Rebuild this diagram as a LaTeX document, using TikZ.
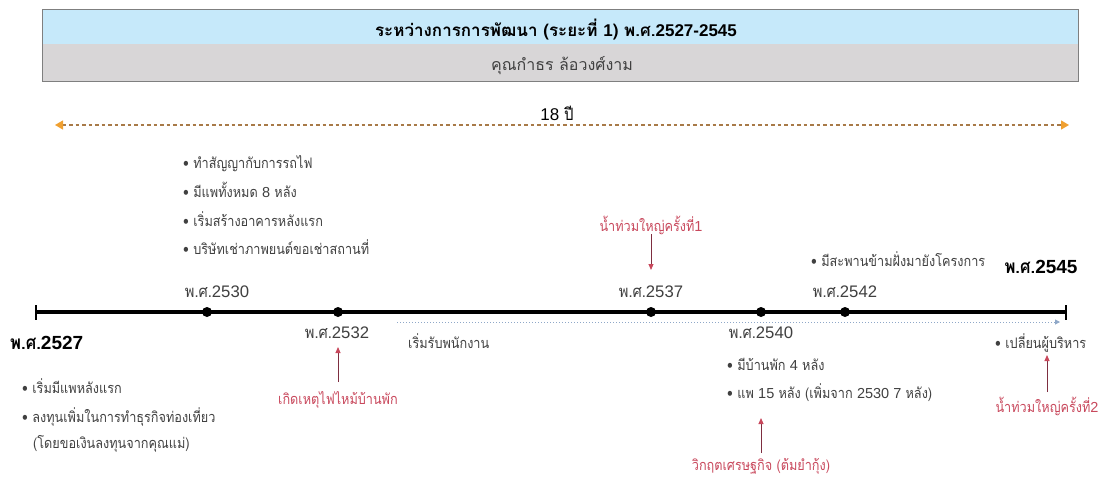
\documentclass[tikz,border=0pt]{standalone}
\usepackage{fontspec}
\setmainfont[Script=Thai, FakeStretch=0.875]{Loma}
\newfontfamily\titlef[Script=Thai]{Loma}
\newfontfamily\lat{Liberation Sans}
\newcommand\ltn[1]{{\lat #1}}
\usetikzlibrary{arrows.meta,calc}
\definecolor{txtgray}{HTML}{404040}
\definecolor{hdrblue}{HTML}{C6E9FA}
\definecolor{hdrgray}{HTML}{D8D6D7}
\definecolor{hdrline}{HTML}{7F7F7F}
\definecolor{redtext}{HTML}{C8485C}
\definecolor{redline}{HTML}{7E2E40}
\definecolor{orangetip}{HTML}{F0A030}
\definecolor{dashbrown}{HTML}{A87A48}
\definecolor{bluedot}{HTML}{8FA8C8}
\tikzset{
  txt/.style={font=\fontsize{14.5}{16}\selectfont, text=txtgray, inner sep=0pt},
  yearlbl/.style={font=\fontsize{16.7}{18}\selectfont, text=txtgray, inner sep=0pt, anchor=base},
  boldyear/.style={font=\bfseries\fontsize{19}{21}\selectfont, text=black, inner sep=0pt},
  redtxt/.style={font=\fontsize{14.5}{16}\selectfont, text=redtext, inner sep=0pt, anchor=base},
  redarr/.style={draw=redline, line width=1pt, -{Triangle[length=6pt,width=5pt,fill=redtext,color=redtext]}},
  dotmark/.style={circle, fill=black, inner sep=0pt, minimum size=10pt},
}
\begin{document}
\begin{tikzpicture}[x=1pt,y=-1pt]
\useasboundingbox (0,0) rectangle (1107,479);
% header
\fill[hdrblue] (42,9) rectangle (1078,44);
\fill[hdrgray] (42,44) rectangle (1078,81);
\draw[hdrline, line width=0.8pt] (42,9) rectangle (1078,81);
\node[font=\titlef\bfseries\fontsize{17}{19}\selectfont, text=black, inner sep=0, anchor=base] (title) at (556,36) {ระหว่างการการพัฒนา (ระยะที่ \ltn{1}) พ.ศ.\ltn{2527-2545}};
\node[font=\titlef\fontsize{16}{18}\selectfont, text=txtgray, inner sep=0, anchor=base] (sub) at (562,70) {คุณกำธร ล้อวงศ์งาม};
% 18 years
\node[font=\fontsize{17}{19}\selectfont, inner sep=0, anchor=base] (span) at (557,120) {\ltn{18} ปี};
\coordinate (sL) at (55,125);
\coordinate (sR) at (1069,125);
\draw[dashbrown, line width=1.3pt, dash pattern=on 3.5pt off 3pt,
  {Triangle[length=8pt,width=9pt,fill=orangetip,color=orangetip]}-{Triangle[length=8pt,width=9pt,fill=orangetip,color=orangetip]}] (sL) -- (sR);
% timeline
\coordinate (tL) at (36,312);
\coordinate (tR) at (1066,312);
\draw[line width=3.5pt] (tL) -- (tR);
\draw[line width=2.8pt] ([yshift=-7.5pt]tL) -- ([yshift=7.5pt]tL);
\draw[line width=2.8pt] ([yshift=-7.5pt]tR) -- ([yshift=7.5pt]tR);
\node[dotmark] (d2530) at (207,312) {};
\node[dotmark] (d2532) at (338,312) {};
\node[dotmark] (d2537) at (651,312) {};
\node[dotmark] (d2540) at (761,312) {};
\node[dotmark] (d2542) at (845,312) {};
% staff dotted arrow
\coordinate (stA) at (397,322);
\coordinate (stB) at (1060,322);
\draw[bluedot, line width=1pt, dotted, -{Triangle[length=5pt,width=5pt,fill=bluedot,color=bluedot]}] (stA) -- (stB);
\node[txt, anchor=base west] (staff) at (408,348) {เริ่มรับพนักงาน};
% year labels
\node[boldyear, anchor=base west] (y2527) at (10,349) {พ.ศ.\ltn{2527}};
\node[yearlbl] (y2530) at (217,297) {พ.ศ.\ltn{2530}};
\node[yearlbl] (y2532) at (337,338) {พ.ศ.\ltn{2532}};
\node[yearlbl] (y2537) at (651,297) {พ.ศ.\ltn{2537}};
\node[yearlbl] (y2540) at (761,338) {พ.ศ.\ltn{2540}};
\node[yearlbl] (y2542) at (845,297) {พ.ศ.\ltn{2542}};
\node[boldyear, anchor=base] (y2545) at (1041,273) {พ.ศ.\ltn{2545}};
% 2530 list
\node[txt, anchor=base west] (a1) at (183,168) {• ทำสัญญากับการรถไฟ};
\node[txt, anchor=base west] (a2) at (183,197) {• มีแพทั้งหมด \ltn{8} หลัง};
\node[txt, anchor=base west] (a3) at (183,226) {• เริ่มสร้างอาคารหลังแรก};
\node[txt, anchor=base west] (a4) at (183,254) {• บริษัทเช่าภาพยนต์ขอเช่าสถานที่};
% 2527 list
\node[txt, anchor=base west] (b1) at (22,393) {• เริ่มมีแพหลังแรก};
\node[txt, anchor=base west] (b2) at (22,422) {• ลงทุนเพิ่มในการทำธุรกิจท่องเที่ยว};
\node[txt, anchor=base west] (b3) at (33,448) {(โดยขอเงินลงทุนจากคุณแม่)};
% 2542
\node[txt, anchor=base west] (c1) at (811,266) {• มีสะพานข้ามฝั่งมายังโครงการ};
% 2540 list
\node[txt, anchor=base west] (e1) at (727,370) {• มีบ้านพัก \ltn{4} หลัง};
\node[txt, anchor=base west] (e2) at (727,398) {• แพ \ltn{15} หลัง (เพิ่มจาก \ltn{2530 7} หลัง)};
% 2545
\node[txt, anchor=base west] (f1) at (995,348) {• เปลี่ยนผู้บริหาร};
% red events
\node[redtxt] (fire) at (338,404) {เกิดเหตุไฟไหม้บ้านพัก};
\node[redtxt] (flood1) at (651,231) {น้ำท่วมใหญ่ครั้งที่\ltn{1}};
\node[redtxt] (crisis) at (761,470) {วิกฤตเศรษฐกิจ (ต้มยำกุ้ง)};
\node[redtxt] (flood2) at (1047,412) {น้ำท่วมใหญ่ครั้งที่\ltn{2}};
\draw[redarr] ([yshift=22pt]fire.base) -- ($(fire.base |- y2532.base)+(0,9)$);
\draw[redarr] ([yshift=-3pt]flood1.base) -- ($(flood1.base |- y2537.base)+(0,-27)$);
\draw[redarr] ([yshift=17pt]crisis.base) -- ($(crisis.base |- e2.base)+(0,20)$);
\draw[redarr] ([yshift=20pt]flood2.base) -- ($(flood2.base |- f1.base)+(0,7)$);
\end{tikzpicture}
\end{document}
